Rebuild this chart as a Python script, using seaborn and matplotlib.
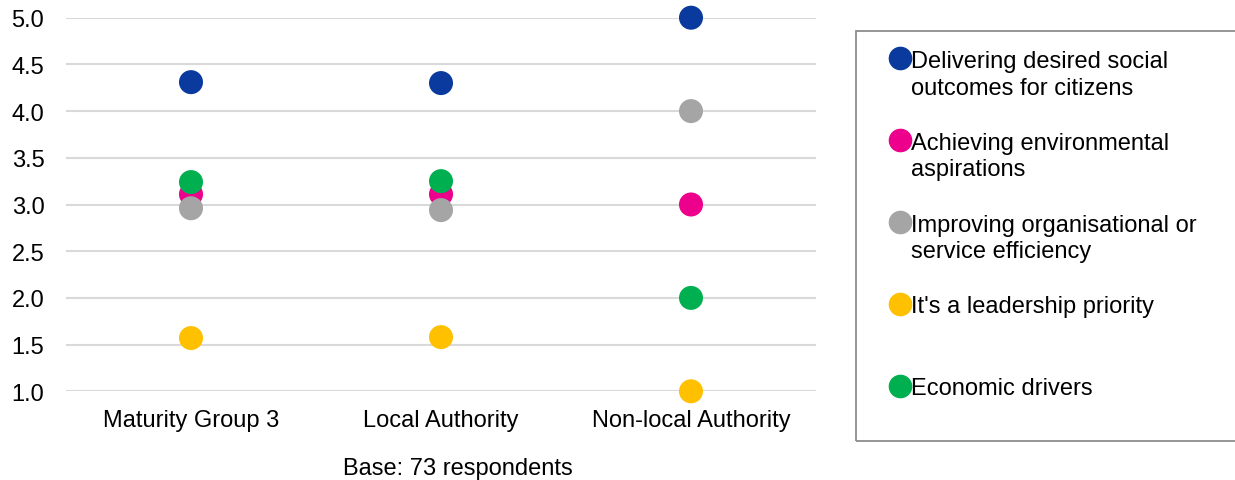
import matplotlib
matplotlib.use("Agg")
import matplotlib.pyplot as plt
import seaborn as sns
import pandas as pd
from matplotlib.lines import Line2D
from matplotlib.patches import Rectangle

# Respondent groups (x categories)
groups = ["Maturity Group 3", "Local Authority", "Non-local Authority"]

# Drivers (series), in drawing order
drivers = [
    "Delivering desired social\noutcomes for citizens",
    "Achieving environmental\naspirations",
    "Improving organisational or\nservice efficiency",
    "It's a leadership priority",
    "Economic drivers",
]

# Mean scores per group for each driver
social = [4.31, 4.30, 5.0]
environmental = [3.11, 3.11, 3.0]
efficiency = [2.96, 2.94, 4.0]
leadership = [1.57, 1.58, 1.0]
economic = [3.24, 3.25, 2.0]

yticks = [1.0, 1.5, 2.0, 2.5, 3.0, 3.5, 4.0, 4.5, 5.0]
base_note = "Base: 73 respondents"

colors = ["#0A3A9E", "#EC008C", "#A5A5A5", "#FFC000", "#00B050"]

series = [social, environmental, efficiency, leadership, economic]
rows = []
for gi, g in enumerate(groups):
    for d, vals in zip(drivers, series):
        rows.append({"group": g, "driver": d, "score": vals[gi]})
df = pd.DataFrame(rows)

sns.set_style("white")
plt.rcParams["font.family"] = ["Liberation Sans", "DejaVu Sans"]
plt.rcParams["text.color"] = "#000000"

W, H = 1235, 481
fig = plt.figure(figsize=(W / 100, H / 100), dpi=100)


def fx(px):
    return px / W


def fy(py):
    return 1 - py / H


ax = fig.add_axes([fx(66), fy(392.3), fx(816) - fx(66), fy(18.7) - fy(392.3)])

sns.stripplot(
    data=df, x="group", y="score", hue="driver", order=groups,
    hue_order=drivers, palette=colors, jitter=False, dodge=False,
    size=17.3, linewidth=0, legend=False, ax=ax, zorder=3,
)
for coll in ax.collections:
    coll.set_clip_on(False)

ax.set_xlim(-0.5, 2.5)
ax.set_ylim(1.0, 5.0)
ax.set_yticks(yticks)
ax.set_yticklabels([f"{v:.1f}" for v in yticks])
ax.set_xlabel("")
ax.set_ylabel("")
ax.yaxis.grid(True, color="#D9D9D9", linewidth=1.5)
ax.xaxis.grid(False)
ax.set_axisbelow(True)
for s in ax.spines.values():
    s.set_visible(False)
ax.tick_params(axis="y", length=0, pad=15.6, labelsize=17, labelcolor="#000000")
ax.tick_params(axis="x", length=0, pad=13, labelsize=17, labelcolor="#000000")

fig.text(fx(458), fy(475), base_note, ha="center", va="baseline",
         fontsize=17, color="#000000")

# Legend panel
frame = Rectangle((fx(856), fy(441.7)), fx(1300) - fx(856), fy(32.3) - fy(441.7),
                  transform=fig.transFigure, fill=False, edgecolor="#8C8C8C",
                  linewidth=1.3)
fig.add_artist(frame)
top, step, line_h = 59.3, 81.85, 27.0
for i, (lab, c) in enumerate(zip(drivers, colors)):
    yc = top + i * step
    fig.add_artist(Line2D([fx(900)], [fy(yc)], marker="o", markersize=16,
                          color=c, linestyle="none", transform=fig.transFigure))
    # baseline of the last line, so the first line sits beside the marker
    extra = lab.count("\n") * line_h
    fig.text(fx(911), fy(yc + 8.3 + extra), lab, ha="left", va="baseline",
             fontsize=17, linespacing=1.27, color="#000000")

fig.savefig("out.png", dpi=100)
